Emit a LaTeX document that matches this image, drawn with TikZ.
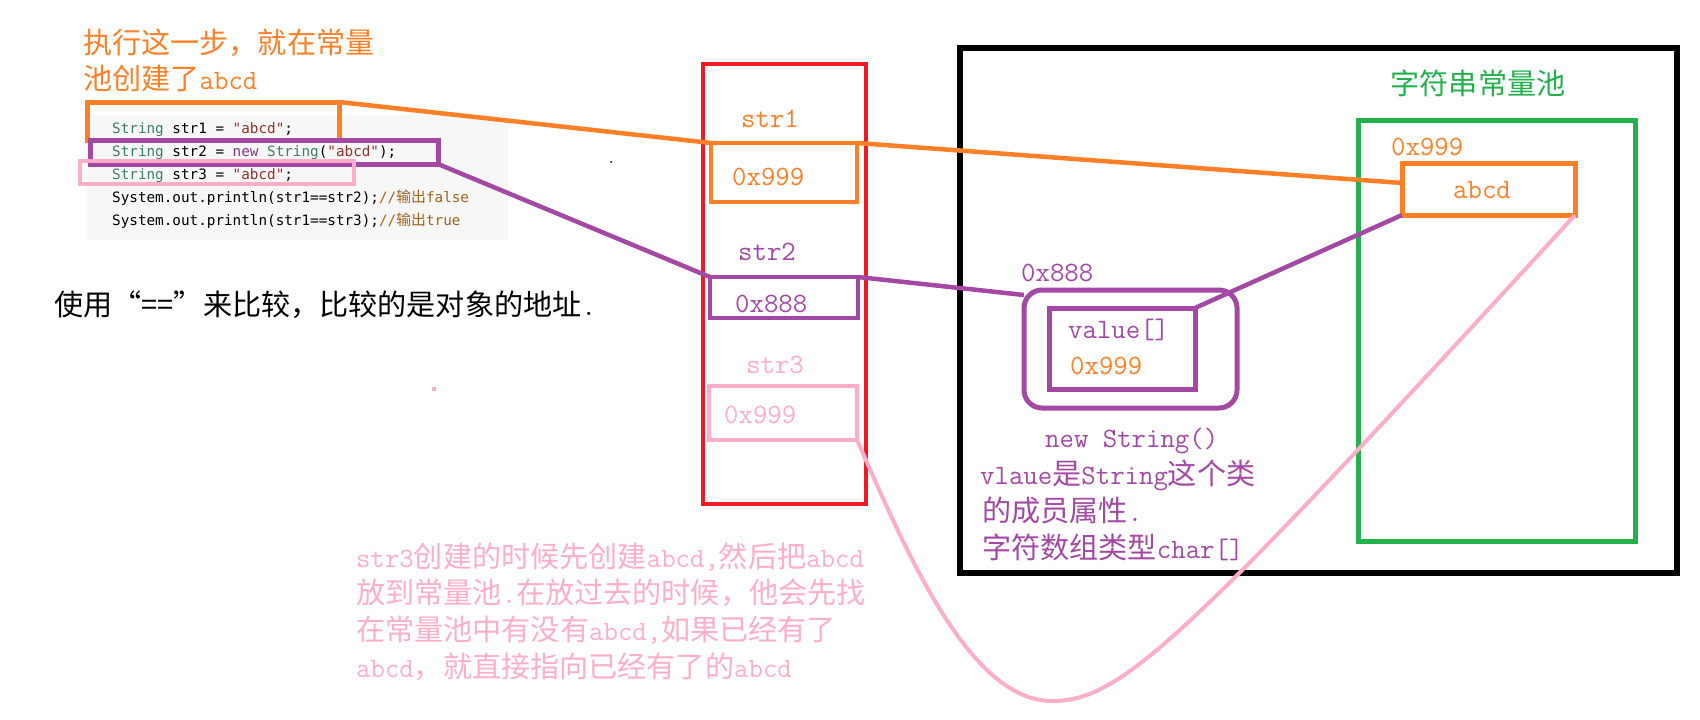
\documentclass[tikz,border=0pt]{standalone}
\usepackage{fontspec}
\newfontfamily\zh{Noto Sans CJK SC}[Scale=1.04]
\newfontfamily\codefont{DejaVu Sans Mono}
\usetikzlibrary{fit}
\definecolor{porange}{HTML}{FF7F27}
\definecolor{ppurple}{HTML}{A349A4}
\definecolor{pred}{HTML}{ED1C24}
\definecolor{pgreen}{HTML}{22B14C}
\definecolor{ppink}{HTML}{FFAEC9}
\definecolor{codebg}{HTML}{F7F7F7}
\definecolor{ctype}{HTML}{3C7F64}
\definecolor{cstr}{HTML}{8E3328}
\definecolor{ckey}{HTML}{7B3B8C}
\definecolor{ccom}{HTML}{A0641E}
\newcommand{\cn}[1]{{\zh #1}}

\begin{document}
\begin{tikzpicture}[x=1pt,y=-1pt,
    txt/.style={inner sep=0pt,anchor=base west,font=\ttfamily\fontsize{28}{34}\selectfont},
    code/.style={inner sep=0pt,anchor=base west,font=\codefont\fontsize{14.3}{17}\selectfont},
    frame/.style={draw,inner sep=0pt,outer sep=0pt,line width=#1},
    frame/.default=4pt,
    link/.style={line width=4.5pt}]
    \fill[white] (0,0) rectangle (1700,720);
    \useasboundingbox (0,0) rectangle (1700,720);

    % code snippet
    \node[fill=codebg,inner sep=0pt,fit={(87,115) (508,240)}] (codearea) {};
    \node[code] (code1) at (112,133) {\color{ctype}String \color{black}str1 = \color{cstr}"abcd"\color{black};};
    \node[code] (code2) at (112,156) {\color{ctype}String \color{black}str2 = \color{ckey}new \color{ctype}String\color{black}(\color{cstr}"abcd"\color{black});};
    \node[code] (code3) at (112,179) {\color{ctype}String \color{black}str3 = \color{cstr}"abcd"\color{black};};
    \node[code] (code4) at (112,202) {System.out.println(str1==str2);\color{ccom}//\cn{输出}false};
    \node[code] (code5) at (112,225) {System.out.println(str1==str3);\color{ccom}//\cn{输出}true};
    \node[frame=5pt,porange,fit={(87,102) (339,140)}] (c1box) {};
    \node[frame=5pt,ppurple,fit={(90,140) (438,164)}] (c2box) {};
    \node[frame=4.5pt,ppink,fit={(80,161) (354,184)}] (c3box) {};

    \node[txt,porange] (note1) at (83,53) {\cn{执行这一步，就在常量}};
    \node[txt,porange] (note2) at (83,89) {\cn{池创建了}abcd};
    \node[txt] (rule) at (54,315) {\cn{使用“==”来比较，比较的是对象的地址}.};
    \fill (611,162) circle (1pt);
    \fill[ppink] (432,387) rectangle (436,391);

    % stack
    \node[frame,pred,fit={(703,64) (866,504)}] (stack) {};
    \node[txt,porange,anchor=base] (s1name) at (770,127) {str1};
    \node[frame,porange,fit={(711,143) (857,202)}] (s1box) {};
    \node[txt,porange] (s1val) at (732,185) {0x999};
    \node[txt,ppurple,anchor=base] (s2name) at (767,260) {str2};
    \node[frame,ppurple,fit={(710,277) (858,318)}] (s2box) {};
    \node[txt,ppurple] (s2val) at (735,312) {0x888};
    \node[txt,ppink,anchor=base] (s3name) at (775,373) {str3};
    \node[frame,ppink,fit={(709,386) (857,440)}] (s3box) {};
    \node[txt,ppink] (s3val) at (724,423) {0x999};

    % heap and pool
    \node[frame=6pt,black,fit={(960,48) (1677,573)}] (heap) {};
    \node[txt,pgreen,anchor=base] (pooltitle) at (1478,94) {\cn{字符串常量池}};
    \node[frame=5pt,pgreen,fit={(1358,120) (1635,541)}] (pool) {};
    \node[txt,porange] (abcdaddr) at (1391,155) {0x999};
    \node[frame=5pt,porange,fit={(1402,163) (1575,215)}] (abcd) {};
    \node[txt,porange,anchor=base] (abcdtxt) at (1482,198) {abcd};
    \node[txt,ppurple] (objaddr) at (1021,281) {0x888};
    \node[frame=5pt,ppurple,rounded corners=18pt,fit={(1024,290) (1237,408)}] (obj) {};
    \node[frame=5pt,ppurple,fit={(1049,308) (1195,389)}] (val) {};
    \node[txt,ppurple] (valname) at (1068,338) {value[]};
    \node[txt,porange] (valaddr) at (1070,374) {0x999};
    \node[txt,ppurple] (note3) at (1045,447) {new String()};
    \node[txt,ppurple] (note4) at (980,484) {vlaue\cn{是}String\cn{这个类}};
    \node[txt,ppurple] (note5) at (982,521) {\cn{的成员属性}.};
    \node[txt,ppurple] (note6) at (982,558) {\cn{字符数组类型}char[]};

    \node[txt,ppink] (note7) at (356,567) {str3\cn{创建的时候先创建}abcd,\cn{然后把}abcd};
    \node[txt,ppink] (note8) at (356,603) {\cn{放到常量池}.\cn{在放过去的时候，他会先找}};
    \node[txt,ppink] (note9) at (356,640) {\cn{在常量池中有没有}abcd,\cn{如果已经有了}};
    \node[txt,ppink] (note10) at (356,677) {abcd\cn{，就直接指向已经有了的}abcd};

    % references
    \draw[link,porange] (c1box.north east) -- (s1box.north west);
    \draw[link,porange] (s1box.north east) -- ([yshift=6pt]abcd.west);
    \draw[link,ppurple] (c2box.south east) -- (s2box.north west);
    \draw[link,ppurple] (s2box.north east) -- ([yshift=-5pt]obj.north west);
    \draw[link,ppurple] (val.north east) -- (abcd.south west);
    \coordinate (dip) at (1052,701);
    \draw[link,ppink,line width=4pt] (s3box.south east) .. controls (905,548) and (968,701) .. (dip)
        .. controls (1122,701) and (1185,640) .. (abcd.south east);
    %\node at (1050,710) {dip};
\end{tikzpicture}
\end{document}
